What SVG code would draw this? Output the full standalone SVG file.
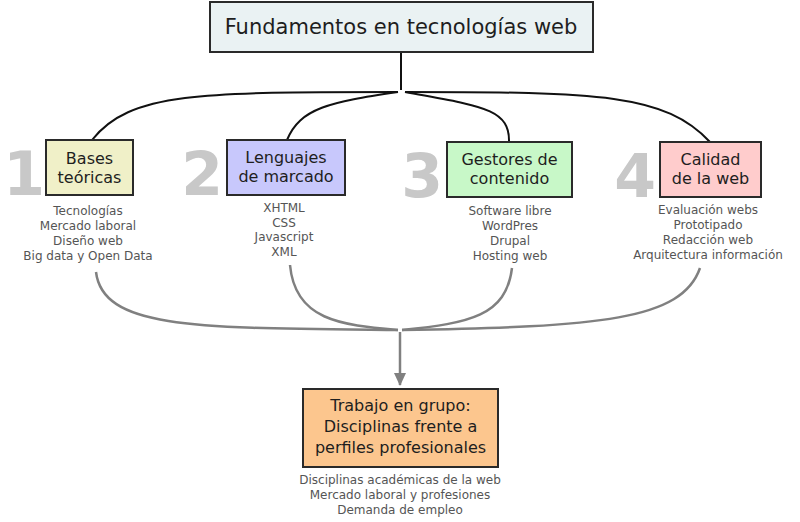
<svg xmlns="http://www.w3.org/2000/svg" width="800" height="522" viewBox="0 0 800 522">
<defs>
<style>
text{font-family:"DejaVu Sans","Verdana",sans-serif;text-anchor:middle}
.box{stroke:#2a2a2a;stroke-width:2}
.bt{font-size:16px;fill:#1e1e1e}
.lt{font-size:12px;fill:#555}
.num{font-size:60px;font-weight:bold;fill:#c8c8c8}
.top{fill:none;stroke:#111;stroke-width:2}
.bot{fill:none;stroke:#808080;stroke-width:2.5}
</style>
<marker id="ah" viewBox="0 0 13 12" refX="12" refY="6" markerWidth="13" markerHeight="12" markerUnits="userSpaceOnUse" orient="auto">
<path d="M0,0 L13,6 L0,12 z" fill="#808080"/>
</marker>
</defs>
<rect width="800" height="522" fill="#fff"/>
<g id="connectors">
<path class="top" d="M401,52 V90"/>
<path class="top" d="M398,92 C200,92 130,92 92,140"/>
<path class="top" d="M398,92 C330,102 300,108 287,140"/>
<path class="top" d="M405,92 C480,106 510,108 509,142"/>
<path class="top" d="M405,92 C600,92 665,94 710,142"/>
<path class="bot" d="M96,272 C103,330 200,328 398,330"/>
<path class="bot" d="M290,265 C295,320 340,325 398,330"/>
<path class="bot" d="M512,268 C506,316 470,323 402,330"/>
<path class="bot" d="M700,268 C682,320 600,327 402,330"/>
<path class="bot" d="M400,332 V385" marker-end="url(#ah)"/>
</g>
<g id="title">
<rect class="box" x="210" y="2" width="383" height="50" fill="#eaf2f3" stroke-width="2.5"/>
<text x="401" y="34" font-size="21" fill="#1e1e1e">Fundamentos en tecnologías web</text>
</g>
<g id="node1">
<text class="num" x="24" y="195">1</text>
<rect class="box" x="46" y="140" width="87" height="55" fill="#f0f0c8"/>
<text class="bt" x="89.5" y="164">Bases</text>
<text class="bt" x="89.5" y="183">teóricas</text>
<text class="lt" x="88" y="215">Tecnologías</text>
<text class="lt" x="88" y="230">Mercado laboral</text>
<text class="lt" x="88" y="245">Diseño web</text>
<text class="lt" x="88" y="260">Big data y Open Data</text>
</g>
<g id="node2">
<text class="num" x="202" y="195">2</text>
<rect class="box" x="227" y="140" width="118" height="55" fill="#c8c8fc"/>
<text class="bt" x="286" y="163">Lenguajes</text>
<text class="bt" x="286" y="182">de marcado</text>
<text class="lt" x="284" y="212">XHTML</text>
<text class="lt" x="284" y="226.5">CSS</text>
<text class="lt" x="284" y="241">Javascript</text>
<text class="lt" x="284" y="255.5">XML</text>
</g>
<g id="node3">
<text class="num" x="422" y="197">3</text>
<rect class="box" x="447" y="142" width="125" height="55" fill="#c8f8c8"/>
<text class="bt" x="509.5" y="165">Gestores de</text>
<text class="bt" x="509.5" y="184">contenido</text>
<text class="lt" x="510" y="215">Software libre</text>
<text class="lt" x="510" y="230">WordPres</text>
<text class="lt" x="510" y="245">Drupal</text>
<text class="lt" x="510" y="260">Hosting web</text>
</g>
<g id="node4">
<text class="num" x="635" y="197">4</text>
<rect class="box" x="660" y="142" width="101" height="55" fill="#ffcccc"/>
<text class="bt" x="710.5" y="165">Calidad</text>
<text class="bt" x="710.5" y="184">de la web</text>
<text class="lt" x="708" y="214">Evaluación webs</text>
<text class="lt" x="708" y="229">Prototipado</text>
<text class="lt" x="708" y="244">Redacción web</text>
<text class="lt" x="708" y="259">Arquitectura información</text>
</g>
<g id="node5">
<rect class="box" x="303" y="389" width="195" height="78" fill="#fcc68e"/>
<text class="bt" x="400.5" y="411">Trabajo en grupo:</text>
<text class="bt" x="400.5" y="432">Disciplinas frente a</text>
<text class="bt" x="400.5" y="453">perfiles profesionales</text>
<text class="lt" x="400" y="484">Disciplinas académicas de la web</text>
<text class="lt" x="400" y="499">Mercado laboral y profesiones</text>
<text class="lt" x="400" y="514">Demanda de empleo</text>
</g>
</svg>
